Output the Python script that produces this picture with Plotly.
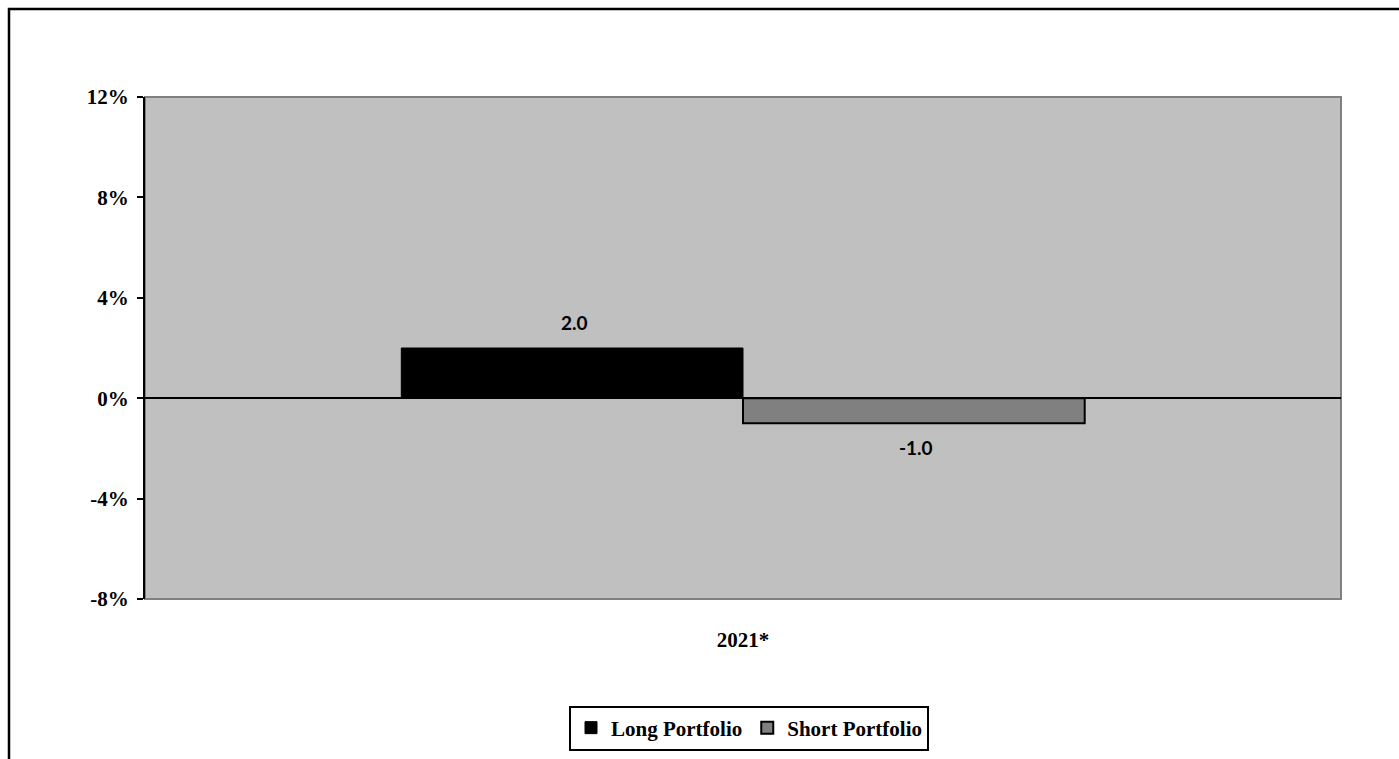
import plotly.graph_objects as go

categories = ["2021*"]
series_names = ["Long Portfolio", "Short Portfolio"]
long_values = [2.0]
short_values = [-1.0]
y_tick_values = [-8, -4, 0, 4, 8, 12]
y_tick_labels = ["-8%", "-4%", "0%", "4%", "8%", "12%"]

W, H = 1399, 759
L, R, T, B = 145, 58, 97, 160
pw, ph = W - L - R, H - T - B

def px_x(x):
    return (x - L) / pw

def px_y(y):
    return (H - B - y) / ph

serif = "Liberation Serif, Times New Roman, serif"
sans = "Lato, Open Sans, Liberation Sans, sans-serif"

fig = go.Figure()
fig.add_trace(go.Bar(
    x=categories, y=long_values, name=series_names[0],
    marker=dict(color="#000000", line=dict(color="#000000", width=1)),
))
fig.add_trace(go.Bar(
    x=categories, y=short_values, name=series_names[1],
    marker=dict(color="#808080", line=dict(color="#000000", width=2)),
))

bar_half = 0.2857 * pw / 2
for vals, sign_shift in ((long_values, -bar_half), (short_values, bar_half)):
    for c, v in zip(categories, vals):
        fig.add_annotation(
            x=c, y=v, xref="x", yref="y", text=f"{v:.1f}", showarrow=False,
            xshift=sign_shift + 2, yshift=26 if v >= 0 else -24,
            font=dict(family=sans, size=19, color="#000000", weight="bold"),
        )

# outer chart border
fig.add_shape(type="rect", xref="paper", yref="paper",
              x0=px_x(9), x1=px_x(1420), y0=px_y(9), y1=px_y(780),
              line=dict(color="#000000", width=2.5), fillcolor="rgba(0,0,0,0)", layer="below")
# plot area border
fig.add_shape(type="rect", xref="paper", yref="paper",
              x0=0, x1=1, y0=0, y1=1,
              line=dict(color="#808080", width=2), fillcolor="rgba(0,0,0,0)", layer="below")

fig.update_layout(
    width=W, height=H,
    margin=dict(l=L, r=R, t=T, b=B, pad=0, autoexpand=False),
    paper_bgcolor="#FFFFFF",
    plot_bgcolor="#C0C0C0",
    barmode="group",
    bargap=0.4286,
    bargroupgap=0,
    showlegend=True,
    legend=dict(
        orientation="h", x=px_x(749), y=px_y(728), xanchor="center", yanchor="middle",
        bordercolor="#000000", borderwidth=2, bgcolor="#FFFFFF",
        font=dict(family=serif, size=21, color="#000000", weight="bold"),
        itemwidth=30, tracegroupgap=0,
    ),
    xaxis=dict(
        type="category", showgrid=False, zeroline=False, showline=False, automargin=False,
        ticks="", tickfont=dict(family=serif, size=21, color="#000000", weight="bold"),
        ticklabelstandoff=26,
    ),
    yaxis=dict(
        range=[-8, 12], tickvals=y_tick_values, ticktext=y_tick_labels, automargin=False,
        showgrid=False, zeroline=True, zerolinecolor="#000000", zerolinewidth=2,
        showline=True, linecolor="#000000", linewidth=2,
        ticks="outside", ticklen=6, tickwidth=2, tickcolor="#000000",
        tickfont=dict(family=serif, size=21, color="#000000", weight="bold"),
        ticklabelstandoff=4,
    ),
)

fig.write_html("out.html")
